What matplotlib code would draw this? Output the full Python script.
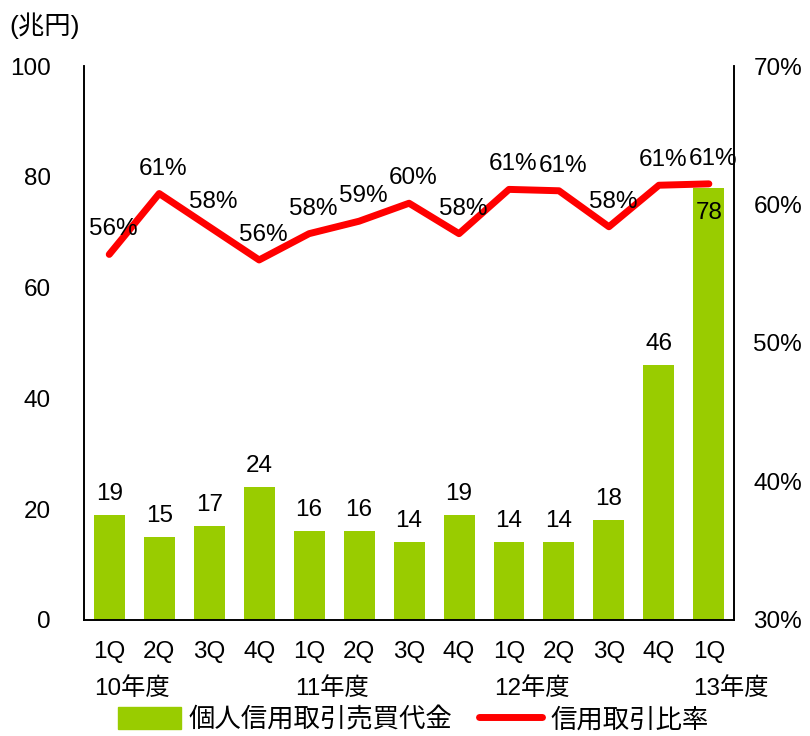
import numpy as np
import matplotlib.pyplot as plt
from matplotlib.lines import Line2D
from matplotlib.patches import Patch
import matplotlib.transforms as mtransforms

plt.rcParams['font.family'] = ['Liberation Sans', 'Noto Sans CJK JP']

quarters = ['1Q', '2Q', '3Q', '4Q', '1Q', '2Q', '3Q', '4Q', '1Q', '2Q', '3Q', '4Q', '1Q']
years = ['10年度', '', '', '', '11年度', '', '', '', '12年度', '', '', '', '13年度']
amount = [19, 15, 17, 24, 16, 16, 14, 19, 14, 14, 18, 46, 78]
ratio = [56.4, 60.8, 58.4, 56.0, 57.9, 58.8, 60.1, 57.9, 61.1, 61.0, 58.4, 61.4, 61.5]
ratio_labels = ['56%', '61%', '58%', '56%', '58%', '59%', '60%', '58%', '61%', '61%', '58%', '61%', '61%']

green = '#99cc00'
red = '#ff0000'
fs = 17.5

fig = plt.figure(figsize=(8.1, 7.36), dpi=100)
ax = fig.add_axes([0.104, 0.158, 0.802, 0.752])
ax2 = ax.twinx()

x = np.arange(len(amount))
ax.bar(x, amount, width=0.62, color=green, zorder=2)
ax.set_xlim(-0.5, len(amount) - 0.5)
ax.set_ylim(0, 100)
ax.set_yticks([0, 20, 40, 60, 80, 100])
ax.tick_params(axis='y', length=0, pad=24, labelsize=fs)
ax.tick_params(axis='x', length=0, pad=15, labelsize=fs)
ax.set_xticks(x)
ax.set_xticklabels(quarters)

for i, v in enumerate(amount):
    if v > 60:
        ax.annotate(str(v), (i, v), xytext=(0, -18), textcoords='offset points',
                    ha='center', va='center', fontsize=fs)
    else:
        ax.annotate(str(v), (i, v), xytext=(0, 15), textcoords='offset points',
                    ha='center', va='center', fontsize=fs)

trans = mtransforms.blended_transform_factory(ax.transData, ax.transAxes)
for i, y in enumerate(years):
    if y:
        ax.text(i + 0.45, -0.125, y, transform=trans, ha='center', va='center', fontsize=fs)

ax2.plot(x, ratio, color=red, lw=5, zorder=3, solid_capstyle='round')
ax2.set_ylim(30, 70)
ax2.set_yticks([30, 40, 50, 60, 70])
ax2.set_yticklabels([f'{t}%' for t in [30, 40, 50, 60, 70]])
ax2.tick_params(axis='y', length=0, pad=14, labelsize=fs)
for i, v in enumerate(ratio):
    ax2.annotate(ratio_labels[i], (i, v), xytext=(3, 18), textcoords='offset points',
                 ha='center', va='center', fontsize=fs)

for a in (ax, ax2):
    a.spines['top'].set_visible(False)
    for s in ('left', 'right', 'bottom'):
        a.spines[s].set_linewidth(1.2)

handles = [Patch(color=green, label='個人信用取引売買代金'),
           Line2D([0], [0], color=red, lw=5, label='信用取引比率', solid_capstyle='round')]
fig.legend(handles=handles, loc='center', bbox_to_anchor=(0.51, 0.022), ncol=2,
           frameon=False, fontsize=19, handlelength=2.4, handleheight=0.9,
           columnspacing=1.0, handletextpad=0.3)

fig.text(0.012, 0.965, '(兆円)', fontsize=19, ha='left', va='center')

fig.savefig('out.png', dpi=100)
